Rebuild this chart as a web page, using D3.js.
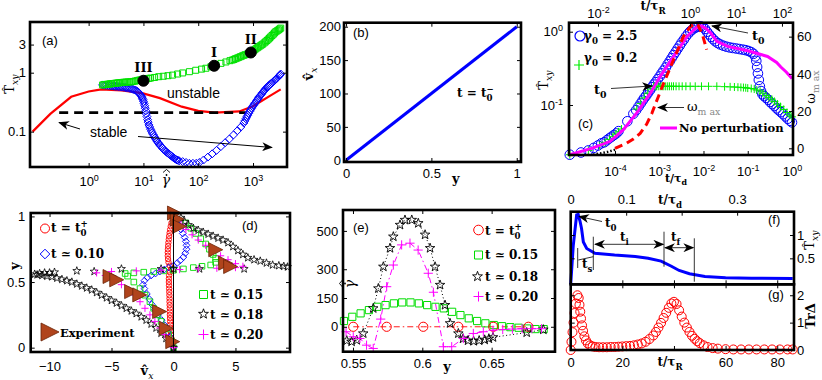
<!DOCTYPE html>
<html>
<head>
<meta charset="utf-8">
<script src="https://cdn.jsdelivr.net/npm/d3@7"></script>
<style>
  body { margin: 0; background: #fff; }
  svg { display: block; }
</style>
</head>
<body>
<svg id="fig" width="822" height="380"></svg>
<script>
/*
  Data
*/

// (a) shear stress vs shear rate
var aTicksX = [1, 10, 100, 1000];
var aTicksY = [0.1, 1, 3];
var aRed = [[0.095,0.1],[0.2,0.2],[0.48,0.39],[1.0,0.48],[1.7,0.52],[4,0.5],[9.5,0.45],[20,0.37],[50,0.265],[100,0.225],[200,0.21],[560,0.22],[1000,0.27],[2000,0.4],[3200,0.52]];
var aDash = [[0.29,0.21],[740,0.21]];
var aGreen = [[1.8,0.62],[1.9,0.625],[2.0,0.63],[2.15,0.635],[2.3,0.64],[2.45,0.645],[2.6,0.65],[2.8,0.655],[3.0,0.66],[3.2,0.665],[3.4,0.67],[3.65,0.675],[3.9,0.68],[4.2,0.685],[4.5,0.69],[4.85,0.693],[5.2,0.695],[5.6,0.698],[6,0.7],[6.5,0.71],[7,0.72],[7.6,0.733],[8.2,0.745],[8.9,0.757],[9.7,0.77],[10.6,0.78],[11.5,0.79],[12.5,0.8],[13.5,0.81],[16,0.83],[19,0.855],[23,0.87],[28,0.89],[34,0.91],[42,0.95],[52,0.99],[69,1.04],[90,1.1],[115,1.15],[138,1.19],[170,1.26],[210,1.35],[260,1.44],[320,1.52],[380,1.6],[420,1.64],[450,1.68],[480,1.73],[515,1.77],[550,1.82],[590,1.87],[630,1.92],[675,1.97],[720,2.02],[785,2.07],[850,2.13],[900,2.2],[950,2.28],[1010,2.36],[1070,2.45],[1130,2.55],[1200,2.65],[1270,2.75],[1350,2.85],[1420,2.95],[1500,3.05],[1600,3.2],[1700,3.35],[1800,3.52],[1900,3.7],[2000,3.87],[2100,4.05],[2220,4.27],[2350,4.5],[2470,4.73],[2600,4.96],[2750,5.13],[2900,5.3],[3050,5.5],[3200,5.7]];
var aBlue = [[1.8,0.62],[1.95,0.615],[2.1,0.61],[2.3,0.605],[2.5,0.6],[2.7,0.595],[2.9,0.59],[3.1,0.587],[3.3,0.585],[3.55,0.58],[3.8,0.575],[4.1,0.57],[4.4,0.565],[4.7,0.56],[5,0.555],[5.35,0.548],[5.7,0.54],[6.1,0.53],[6.5,0.52],[6.9,0.51],[7.3,0.5],[7.65,0.485],[8,0.47],[8.35,0.45],[8.7,0.43],[9.0,0.41],[9.3,0.39],[9.55,0.37],[9.8,0.35],[10.05,0.325],[10.3,0.3],[10.55,0.275],[10.8,0.25],[11.05,0.225],[11.3,0.2],[11.6,0.18],[11.9,0.16],[12.2,0.145],[12.6,0.13],[13,0.12],[13.5,0.11],[14,0.102],[14.5,0.095],[15.1,0.089],[15.7,0.083],[16.3,0.078],[17,0.073],[17.7,0.069],[18.5,0.065],[19.2,0.062],[20,0.059],[21,0.056],[22,0.053],[23.2,0.05],[24.5,0.048],[25.7,0.046],[27,0.044],[28.5,0.0425],[30,0.041],[31.5,0.0395],[33,0.038],[35,0.0365],[37,0.035],[39,0.034],[41,0.033],[43,0.0325],[45,0.032],
  [52,0.031],[60,0.03],[69,0.029],[80,0.029],[92,0.029],[105,0.03],[125,0.033],[150,0.037],[180,0.042],[215,0.048],[260,0.056],[310,0.065],[370,0.075],[440,0.088],[520,0.104],[600,0.12],
  [680,0.14],[710,0.152],[740,0.165],[770,0.178],[800,0.19],[835,0.205],[870,0.22],[905,0.235],[940,0.25],[980,0.265],[1020,0.28],[1060,0.295],[1100,0.31],[1150,0.33],[1200,0.35],[1250,0.37],[1300,0.39],[1360,0.41],[1420,0.43],[1480,0.455],[1550,0.48],[1620,0.505],[1700,0.53],[1770,0.555],[1850,0.58],[1920,0.6],[2000,0.62],[2100,0.645],[2200,0.67],[2320,0.7],[2450,0.73],[2570,0.765],[2700,0.8],[2850,0.84],[3000,0.88],[3100,0.915],[3200,0.95]];
var aPoints = [[10,0.73],[195,1.31],[910,2.2]];
var aPointNames = ["III", "I", "II"];

// (b) velocity profile
var bTicksX = [0, 0.5, 1];
var bTicksY = [0, 50, 100, 150, 200];
var bLine = [[0,0],[1,200]];

// (c) stress growth, two perturbations
var cTicksBottom = [1e-4, 1e-3, 1e-2, 1e-1, 1];
var cTicksTop = [1e-2, 1, 10, 100];
var cTicksLeft = [0.1, 1];
var cTicksRight = [0, 20, 40, 60];
var cNoPert = [[9.5e-6,0.021],[3.2e-5,0.026],[7.8e-5,0.032],[1.55e-4,0.046],[3.1e-4,0.078],[6.3e-4,0.145],[1.05e-3,0.245],[2.1e-3,0.457],[4.3e-3,0.87],[7e-3,1.15],[9e-3,1.2],[1.15e-2,1.1],[1.45e-2,0.96],[2.0e-2,0.74],[3.5e-2,0.63],[0.1,0.55],[0.28,0.46],[0.45,0.38],[0.56,0.33],[0.75,0.28],[1.0,0.23]];
var cOmega = [[1.0e-4,0],[1.8e-4,2.7],[2.6e-4,5],[3.7e-4,8],[5.2e-4,13],[6.8e-4,18.8],[8.9e-4,26],[1.26e-3,35],[2.1e-3,47.5],[3.5e-3,60],[4.9e-3,65],[6.2e-3,67],[7.6e-3,66],[9.5e-3,61],[1.18e-2,53]];
var cOmegaLow = [[3.2e-5,-3.4],[5e-5,-2.6],[7e-5,-1.8],[1e-4,-0.8]];
var cBlue = [[9.5e-6,0.021],[1.7e-5,0.0225],[2.5e-5,0.024],[3.3e-5,0.026],[4.1e-5,0.028],[4.9e-5,0.03],[5.7e-5,0.031],[6.5e-5,0.033],[7.4e-5,0.035],[8.4e-5,0.037],[9.5e-5,0.039],[1.07e-4,0.041],[1.2e-4,0.044],[1.9e-4,0.06],[2.6e-4,0.076],[3.0e-4,0.085],[3.4e-4,0.095],[3.8e-4,0.105],[4.2e-4,0.115],[4.6e-4,0.125],[5.1e-4,0.135],[5.6e-4,0.147],[6.2e-4,0.16],[6.8e-4,0.175],[7.5e-4,0.19],[8.3e-4,0.205],[9.2e-4,0.225],[1.02e-3,0.245],[1.13e-3,0.27],[1.25e-3,0.295],[1.4e-3,0.325],[1.55e-3,0.36],[1.72e-3,0.395],[1.9e-3,0.435],[2.1e-3,0.48],[2.35e-3,0.53],[2.6e-3,0.585],[2.9e-3,0.645],[3.2e-3,0.71],[3.6e-3,0.78],[4.0e-3,0.86],[4.5e-3,0.94],[5.0e-3,1.01],[5.6e-3,1.07],[6.3e-3,1.12],[7.0e-3,1.16],[7.8e-3,1.18],[8.7e-3,1.18],[9.7e-3,1.15],[1.08e-2,1.09],[1.2e-2,1.0],[1.33e-2,0.92],[1.48e-2,0.85],[1.65e-2,0.79],[1.85e-2,0.74],[2.1e-2,0.7],[2.4e-2,0.67],[2.8e-2,0.645],[3.3e-2,0.625],[3.9e-2,0.61],[4.6e-2,0.6],[5.5e-2,0.59],[6.5e-2,0.58],[7.7e-2,0.57],[9e-2,0.56],[0.105,0.545],[0.12,0.525],[0.135,0.5],[0.148,0.46],[0.156,0.4],[0.163,0.33],[0.17,0.27],[0.178,0.22],[0.188,0.18],[0.2,0.155],[0.215,0.14],[0.235,0.132],[0.26,0.125],[0.29,0.118],[0.32,0.11],[0.36,0.103],[0.4,0.097],[0.45,0.09],[0.5,0.085],[0.56,0.08],[0.63,0.075],[0.71,0.07],[0.8,0.065],[0.9,0.061],[1.0,0.058]];
var cGreen = [[9.5e-6,0.021],[2.5e-5,0.024],[4.5e-5,0.028],[6e-5,0.031],[7.5e-5,0.034],[9e-5,0.037],[1.05e-4,0.04],[1.2e-4,0.043],[1.4e-4,0.047],[3.1e-4,0.088],[3.8e-4,0.105],[4.6e-4,0.125],[5.5e-4,0.145],[6.5e-4,0.165],[7.4e-4,0.18],[8e-4,0.18],[8.7e-4,0.18],[9.5e-4,0.18],[1.05e-3,0.18],[1.15e-3,0.18],[1.27e-3,0.18],[1.4e-3,0.18],[1.55e-3,0.18],[1.7e-3,0.18],[1.9e-3,0.18],[2.1e-3,0.18],[2.4e-3,0.18],[2.8e-3,0.18],[3.3e-3,0.18],[4e-3,0.18],[5e-3,0.18],[6.5e-3,0.18],[9e-3,0.18],[0.013,0.18],[0.02,0.18],[0.03,0.178],[0.04,0.177],[0.05,0.176],[0.06,0.175],[0.07,0.174],[0.08,0.173],[0.09,0.172],[0.1,0.17],[0.12,0.168],[0.14,0.165],[0.16,0.16],[0.19,0.155],[0.22,0.145],[0.26,0.135],[0.3,0.127],[0.35,0.12],[0.4,0.112],[0.47,0.103],[0.55,0.095],[0.65,0.087],[0.77,0.079],[0.9,0.073],[1.0,0.069]];

// (d) velocity profiles (vx, y)
var dTicksX = [-10, -5, 0, 5];
var dTicksY = [0, 0.5, 1];
var dRed = [[0,0],[-0.08,0.025],[-0.14,0.05],[-0.18,0.075],[-0.21,0.1],[-0.23,0.125],[-0.25,0.15],[-0.26,0.175],[-0.27,0.2],[-0.28,0.225],[-0.29,0.25],[-0.3,0.275],[-0.3,0.3],[-0.31,0.325],[-0.32,0.35],[-0.32,0.375],[-0.33,0.4],[-0.34,0.425],[-0.35,0.45],[-0.36,0.475],[-0.37,0.5],[-0.37,0.525],[-0.35,0.55],[-0.28,0.575],[-0.18,0.6],[-0.3,0.625],[-0.4,0.65],[-0.44,0.675],[-0.46,0.7],[-0.46,0.725],[-0.45,0.75],[-0.43,0.775],[-0.41,0.8],[-0.38,0.825],[-0.35,0.85],[-0.31,0.875],[-0.27,0.9],[-0.22,0.925],[-0.16,0.95]];
var dBlue = [[0,0.0],[-0.1,0.04],[-0.25,0.08],[-0.45,0.12],[-0.7,0.17],[-0.95,0.21],[-1.25,0.25],[-1.5,0.29],[-1.75,0.33],[-1.95,0.37],[-2.15,0.41],[-2.35,0.45],[-2.45,0.48],[-2.35,0.51],[-2.1,0.535],[-1.8,0.55],[-1.45,0.565],[-1.1,0.58],[-0.75,0.595],[-0.4,0.61],[0,0.625],[0.3,0.645],[0.55,0.665],[0.8,0.69],[0.95,0.72],[1.05,0.75],[1.05,0.78],[1.0,0.81],[0.9,0.84],[0.75,0.87],[0.6,0.9],[0.45,0.93],[0.3,0.96]];
var dGreen = [[0,0.0],[-0.15,0.05],[-0.4,0.1],[-0.7,0.15],[-1.0,0.2],[-1.3,0.25],[-1.6,0.3],[-1.9,0.35],[-2.3,0.4],[-2.7,0.45],[-3.2,0.5],[-3.7,0.545],[-3.9,0.565],[-3.2,0.57],[-2.4,0.575],[-1.6,0.58],[-0.8,0.585],[0,0.59],[0.8,0.6],[1.6,0.61],[2.3,0.62],[3.0,0.63],[3.4,0.65],[3.4,0.68],[3.2,0.71],[2.9,0.75],[2.6,0.79],[2.2,0.83],[1.8,0.87],[1.4,0.91],[1.0,0.95]];
var dStar = [[0,0],[-0.3,0.03],[-0.6,0.07],[-1.0,0.11],[-1.4,0.15],[-1.8,0.18],[-2.2,0.21],[-2.6,0.235],[-3.0,0.26],[-3.4,0.28],[-3.8,0.3],[-4.2,0.32],[-4.6,0.34],[-5.0,0.36],[-5.4,0.38],[-5.8,0.4],[-6.2,0.42],[-6.6,0.44],[-7.0,0.455],[-7.4,0.47],[-7.8,0.485],[-8.2,0.5],[-8.6,0.51],[-9.0,0.52],[-9.4,0.53],[-9.8,0.54],[-10.2,0.545],[-10.6,0.55],[-11.0,0.555],[-11.2,0.56],[-10.8,0.565],[-10.4,0.57],[-10.0,0.57],[-9.6,0.575],
  [-7.8,0.585],[-6.4,0.58],[-4.2,0.6],[-1.0,0.6],[0,0.6],[2.1,0.6],[5.7,0.6],
  [9.2,0.615],[8.9,0.62],[8.5,0.625],[8.0,0.63],[7.5,0.645],[7.0,0.66],[6.5,0.67],[6.0,0.685],[5.6,0.71],[5.2,0.74],[4.8,0.77],[4.4,0.8],[4.0,0.82],[3.6,0.835],[3.2,0.85],[2.8,0.865],[2.4,0.88],[2.0,0.895],[1.6,0.91],[1.2,0.935],[0.9,0.96],[0.6,0.99]];
var dMag = [[0,0],[-0.3,0.05],[-0.7,0.1],[-1.1,0.15],[-1.5,0.2],[-1.9,0.25],[-2.3,0.3],[-2.7,0.35],[-3.1,0.4],[-3.6,0.44],[-4.2,0.48],[-4.8,0.52],[-5.5,0.55],[-6.2,0.57],[-5.0,0.58],[-3.0,0.585],[-1.0,0.59],[0.5,0.595],[2.0,0.6],[3.5,0.605],[5.0,0.61],[5.6,0.62],[5.0,0.64],[4.4,0.67],[3.8,0.7],[3.2,0.74],[2.6,0.78],[2.0,0.82],[1.5,0.86],[1.0,0.9],[0.6,0.94]];
var dExp = [[0.08,1.026],[0.3,0.98],[0.48,0.924],[3.41,0.746],[4.21,0.644],[4.61,0.618],[-5.12,0.542],[-4.58,0.517],[-3.38,0.427],[-2.72,0.402],[-1.12,0.275],[-0.58,0.148],[-0.06,0.046]];
var dLine = [[0,0],[0,1]];

// (e) shear rate profiles (y, gamma-dot)
var eTicksX = [0.55, 0.6, 0.65];
var eTicksY = [0, 150, 300, 500];
var eRed = [[0.5502,0],[0.5743,0],[0.6007,0],[0.626,0],[0.6512,0],[0.6765,0]];
var eGreen = [[0.5435,30],[0.5495,52],[0.5555,70],[0.5615,87],[0.5675,104],[0.5735,113],[0.5795,122],[0.5855,127],[0.5915,127],[0.5975,122],[0.6035,113],[0.6095,104],[0.6155,96],[0.6215,78],[0.6275,61],[0.6335,44],[0.6395,30],[0.6455,18],[0.6515,9],[0.6575,3],[0.6635,-2],[0.6695,-5],[0.6755,-9],[0.6815,-12],[0.6875,-12]];
var eStar = [[0.5455,-72],[0.549,-78],[0.5527,-70],[0.5574,-35],[0.5646,96],[0.5683,200],[0.5719,313],[0.5767,410],[0.5791,470],[0.5839,531],[0.5875,557],[0.5924,557],[0.5971,540],[0.602,480],[0.6056,410],[0.6092,313],[0.6128,218],[0.6164,113],[0.62,18],[0.626,-35],[0.6294,-62],[0.633,-72],[0.637,-75],[0.641,-72],[0.645,-68],[0.648,-62],[0.651,-55],[0.6753,-30],[0.6873,-15]];
var eMag = [[0.545,-26],[0.5502,-52],[0.555,-61],[0.5598,-96],[0.5646,-113],[0.570,40],[0.5743,209],[0.5791,322],[0.5851,427],[0.5911,436],[0.597,400],[0.6043,279],[0.608,180],[0.6152,-104],[0.6212,-104],[0.6296,-61],[0.6368,-35],[0.644,-26],[0.651,-18],[0.658,-14],[0.665,-12],[0.672,-10],[0.679,-10],[0.686,-10]];

// (f) stress vs time, (g) trace of perturbation
var fTicksTop = [0, 0.1, 0.2, 0.3];
var fTicksRight = [0.5, 1];
var gTicksBottom = [0, 20, 40, 60, 80];
var gTicksRight = [0, 1, 2];
var fStress = [[0,-0.06],[1.0,0.78],[2.3,1.43],[2.9,1.44],[3.6,1.3],[4.2,1.14],[4.9,0.85],[6.2,0.71],[9.4,0.61],[17,0.57],[25,0.54],[30,0.5],[35,0.44],[39,0.33],[42,0.24],[46,0.17],[52,0.11],[60,0.085],[70,0.075],[86,0.07]];
var gTr = [[0,0],[0.3,0.3],[0.7,0.65],[1.1,1.0],[1.5,1.35],[2.0,1.7],[2.6,2.0],[3.1,1.9],[3.4,1.65],[3.7,1.4],[4.0,1.15],[4.4,0.9],[4.8,0.7],[5.3,0.5],[5.9,0.35],[6.6,0.24],[7.5,0.17],[8.5,0.13],[9.6,0.11],[11,0.1],[12.5,0.1],[14,0.1],[15.5,0.11],[17,0.11],[18.5,0.12],[20,0.13],[21.5,0.14],[23,0.15],[24.5,0.17],[26,0.2],[27.5,0.24],[29,0.3],[30.5,0.4],[32,0.53],[33,0.66],[34,0.82],[35,0.99],[36,1.17],[37,1.36],[38,1.54],[39,1.7],[40,1.76],[41,1.68],[42,1.45],[43,1.22],[44,1.0],[45,0.82],[46,0.66],[47,0.52],[48,0.41],[49,0.32],[50,0.25],[51.5,0.17],[53,0.11],[55,0.07],[57,0.05],[60,0.03],[63,0.02],[66,0.02],[69,0.02],[72,0.02],[75,0.02],[78,0.02],[81,0.02],[84,0.02],[86,0.02]];


var svg = d3.select("#fig");
var SANS = "Liberation Sans, Arial, Helvetica, sans-serif";
var SERIF = "DejaVu Serif, serif";
var defs = svg.append("defs");

defs.append("marker").attr("id", "head")
  .attr("viewBox", "0 0 12 10").attr("refX", 11).attr("refY", 5)
  .attr("markerWidth", 11).attr("markerHeight", 9).attr("markerUnits", "userSpaceOnUse")
  .attr("orient", "auto-start-reverse")
  .append("path").attr("d", "M0,0 L12,5 L0,10 L3.5,5 Z").attr("fill", "#000");


/*
  Helpers
*/

function shapePath(type, s) {
  if (type === "square") return "M" + (-s) + "," + (-s) + "h" + 2 * s + "v" + 2 * s + "h" + (-2 * s) + "Z";
  if (type === "diamond") return "M0," + (-s) + "L" + s + ",0L0," + s + "L" + (-s) + ",0Z";
  if (type === "plus") return "M" + (-s) + ",0H" + s + "M0," + (-s) + "V" + s;
  if (type === "tri") return "M" + (-s) + "," + (-s) + "L" + s + ",0L" + (-s) + "," + s + "Z";
  if (type === "star") {
    var p = [];
    for (var k = 0; k < 10; k++) {
      var r = k % 2 ? s * 0.4 : s;
      var a = -Math.PI / 2 + k * Math.PI / 5;
      p.push((r * Math.cos(a)).toFixed(2) + "," + (r * Math.sin(a)).toFixed(2));
    }
    return "M" + p.join("L") + "Z";
  }
  // circle
  return "M" + s + ",0A" + s + "," + s + " 0 1,1 " + (-s) + ",0A" + s + "," + s + " 0 1,1 " + s + ",0Z";
}

function marks(g, data, sx, sy, type, s, stroke, fill, sw) {
  g.append("g").selectAll("path").data(data).enter().append("path")
    .attr("transform", function(d) { return "translate(" + sx(d[0]) + "," + sy(d[1]) + ")"; })
    .attr("d", shapePath(type, s))
    .attr("fill", fill || "none")
    .attr("stroke", stroke)
    .attr("stroke-width", sw || 1);
}

function curve(g, data, sx, sy, stroke, sw, dash) {
  g.append("path").datum(data)
    .attr("d", d3.line().x(function(d) { return sx(d[0]); }).y(function(d) { return sy(d[1]); }))
    .attr("fill", "none").attr("stroke", stroke).attr("stroke-width", sw)
    .attr("stroke-dasharray", dash || null);
}

function makeAxis(g, orient, scale, pos, values, pad, fmt) {
  var gen = {bottom: d3.axisBottom, top: d3.axisTop, left: d3.axisLeft, right: d3.axisRight}[orient](scale)
    .tickValues(values).tickSizeInner(-4).tickSizeOuter(0).tickPadding(pad)
    .tickFormat(fmt || d3.format(""));
  var horiz = orient === "bottom" || orient === "top";
  var ag = g.append("g")
    .attr("transform", horiz ? "translate(0," + pos + ")" : "translate(" + pos + ",0)")
    .call(gen);
  ag.select(".domain").remove();
  ag.selectAll(".tick line").attr("stroke", "#000");
  ag.selectAll(".tick text").attr("font-family", SANS).attr("font-size", 13).attr("fill", "#000");
  return ag;
}

var blank = function() { return ""; };
// a tick whose label place is taken by the axis title
function skipping(v) {
  return function(d) { return d === v ? "" : d3.format("")(d); };
}

function supLabels(ag) {
  ag.selectAll(".tick text").each(function(d) {
    var e = Math.round(Math.log10(d));
    var t = d3.select(this).text(null);
    t.append("tspan").text("10");
    t.append("tspan").attr("dy", "-0.55em").attr("font-size", "9px").text(e);
  });
}

function frame(g, x0, y0, x1, y1) {
  g.append("rect").attr("x", x0).attr("y", y0).attr("width", x1 - x0).attr("height", y1 - y0)
    .attr("fill", "none").attr("stroke", "#000").attr("stroke-width", 2.6);
}

// text built from segments: plain strings or {t, sub, sup, it, col, dx, w}
function rich(g, x, y, segs, o) {
  o = o || {};
  var size = o.size || 12;
  var t = g.append("text").attr("x", x).attr("y", y)
    .attr("font-family", o.font || SERIF).attr("font-size", size)
    .attr("font-weight", o.weight || "bold")
    .attr("text-anchor", o.anchor || "start").attr("fill", "#000");
  if (o.rotate) t.attr("transform", "rotate(" + o.rotate + "," + x + "," + y + ")");
  var cur = 0;
  segs.forEach(function(s) {
    if (typeof s === "string") s = {t: s};
    var off = s.sub ? size * 0.3 : s.sup ? -size * 0.45 : 0;
    var sp = t.append("tspan").attr("dy", off - cur).text(s.t);
    cur = off;
    if (s.sub || s.sup) sp.attr("font-size", size * 0.72);
    if (s.it) sp.attr("font-style", "italic");
    if (s.col) sp.attr("fill", s.col);
    if (s.w) sp.attr("font-weight", s.w);
    if (s.dx) sp.attr("dx", s.dx);
  });
  return t;
}

// shear-rate symbol: gamma with a dot and a hat above it
function gammaDotHat(g, x, y, rot) {
  var h = g.append("g").attr("transform", "translate(" + x + "," + y + ") rotate(" + (rot || 0) + ")");
  h.append("text").attr("text-anchor", "middle")
    .attr("font-family", SERIF).attr("font-size", 14).attr("font-style", "italic").text("\u03B3");
  h.append("circle").attr("cx", 0.5).attr("cy", -10).attr("r", 0.9).attr("fill", "#000");
  h.append("path").attr("d", "M-3,-12.5 L0.5,-15.5 L4,-12.5")
    .attr("fill", "none").attr("stroke", "#000").attr("stroke-width", 0.9);
}

function arrow(g, x1, y1, x2, y2, both, sw) {
  g.append("line").attr("x1", x1).attr("y1", y1).attr("x2", x2).attr("y2", y2)
    .attr("stroke", "#000").attr("stroke-width", sw || 0.8)
    .attr("marker-end", "url(#head)")
    .attr("marker-start", both ? "url(#head)" : null);
}

function seg(g, x1, y1, x2, y2) {
  g.append("line").attr("x1", x1).attr("y1", y1).attr("x2", x2).attr("y2", y2)
    .attr("stroke", "#000").attr("stroke-width", 0.8);
}


/*
  (a)
*/
var ga = svg.append("g");
var ax = d3.scaleLog().domain([Math.pow(10, -1.07), Math.pow(10, 3.62)]).range([30, 287]);
var ay = d3.scaleLog().domain([Math.pow(10, -1.6), Math.pow(10, 0.86)]).range([167, 22]);

curve(ga, aRed, ax, ay, "#ff0000", 2.2);
curve(ga, aDash, ax, ay, "#000", 2.6, "9,6");
marks(ga, aBlue, ax, ay, "diamond", 4, "#0000ff", "none", 1);
marks(ga, aGreen, ax, ay, "square", 3, "#00e000", "none", 1);
marks(ga, aPoints, ax, ay, "circle", 5.5, "#000", "#000", 1);
ga.selectAll(null).data(aPoints).enter().append("text")
  .attr("x", function(d) { return ax(d[0]); })
  .attr("y", function(d) { return ay(d[1]) - 9; })
  .attr("text-anchor", "middle")
  .attr("font-family", SERIF).attr("font-weight", "bold").attr("font-size", 13)
  .text(function(d, i) { return aPointNames[i]; });

makeAxis(ga, "bottom", ax, 167, aTicksX, 10, blank).call(supLabels);
makeAxis(ga, "top", ax, 22, aTicksX, 3, blank);
makeAxis(ga, "left", ay, 30, aTicksY, 4);
makeAxis(ga, "right", ay, 287, aTicksY, 3, blank);
frame(ga, 30, 22, 287, 167);

rich(ga, 42, 45, ["(a)"], {font: SANS, weight: "normal", size: 13});
rich(ga, 167, 98, ["unstable"], {font: SANS, weight: "normal", size: 14});
rich(ga, 90, 137, ["stable"], {font: SANS, weight: "normal", size: 14});
arrow(ga, 80, 129, 59, 122.5, false, 1);
arrow(ga, 138, 136.5, 272, 147.5, false, 1);
gammaDotHat(ga, 166, 185, 0);
rich(ga, 14, 84, ["T\u0302", {t: "xy", sub: true, it: true}], {size: 13, weight: "normal", anchor: "middle", rotate: -90});


/*
  (b)
*/
var gb = svg.append("g");
var bx = d3.scaleLinear().domain([-0.012, 1.025]).range([344, 521]);
var by = d3.scaleLinear().domain([-2.6, 206]).range([162, 22.7]);

curve(gb, bLine, bx, by, "#0000ff", 3);
makeAxis(gb, "bottom", bx, 162, bTicksX, 7);
makeAxis(gb, "top", bx, 22.7, bTicksX, 3, blank);
makeAxis(gb, "left", by, 344, bTicksY, 3);
makeAxis(gb, "right", by, 521, bTicksY, 3, blank);
frame(gb, 344, 22.7, 521, 162);

rich(gb, 353, 37, ["(b)"], {font: SANS, weight: "normal", size: 13});
rich(gb, 457, 97, ["t = t", {t: "0", sub: true}, {t: "\u2212", sup: true, dx: -6}], {size: 12});
rich(gb, 452, 183, ["y"], {size: 13});
rich(gb, 313, 74, ["v\u0302", {t: "x", sub: true, it: true, w: "normal"}], {size: 13, anchor: "middle", rotate: -90});


/*
  (c)
*/
var gc = svg.append("g");
var cx = d3.scaleLog().domain([Math.pow(10, -5.04), Math.pow(10, 0.023)]).range([569, 793]);
var cxTop = d3.scaleLog().domain([Math.pow(10, -2.63), Math.pow(10, 2.24)]).range([569, 793]);
var cy = d3.scaleLog().domain([Math.pow(10, -1.682), Math.pow(10, 0.123)]).range([155, 22.7]);
var cyR = d3.scaleLinear().domain([-3.6, 67.5]).range([155, 22.7]);

marks(gc, cBlue, cx, cy, "circle", 4.8, "#0000ff", "none", 1);
marks(gc, cGreen, cx, cy, "plus", 4, "#00ee00", "none", 1);
curve(gc, cNoPert, cx, cy, "#ff00ff", 3);
curve(gc, cOmegaLow, cx, cyR, "#000", 2.5, "1.5,2");
curve(gc, cOmega, cx, cyR, "#ff0000", 3, "8,5");

makeAxis(gc, "bottom", cx, 155, cTicksBottom, 12, blank).call(supLabels);
makeAxis(gc, "top", cxTop, 22.7, cTicksTop, 4.5, blank).call(supLabels);
makeAxis(gc, "left", cy, 569, cTicksLeft, 6, blank).call(supLabels);
makeAxis(gc, "right", cyR, 793, cTicksRight, 4);
frame(gc, 569, 22.7, 793, 155);

rich(gc, 578, 128, ["(c)"], {font: SANS, weight: "normal", size: 13});
marks(gc, [[cx.invert(580), cy.invert(36)]], cx, cy, "circle", 5, "#0000ff", "none", 1.2);
rich(gc, 584, 40, ["\u03B3", {t: "0", sub: true}, " = 2.5"], {size: 12});
marks(gc, [[cx.invert(579), cy.invert(65)]], cx, cy, "plus", 5, "#00ee00", "none", 1.2);
rich(gc, 584, 62, ["\u03B3", {t: "0", sub: true}, " = 0.2"], {size: 12});
gc.append("line").attr("x1", 660).attr("x2", 677).attr("y1", 128).attr("y2", 128)
  .attr("stroke", "#ff00ff").attr("stroke-width", 3);
rich(gc, 679, 132, ["No perturbation"], {size: 11.5});

arrow(gc, 748, 33, 712, 26, false, 0.8);
rich(gc, 752, 40, ["t", {t: "0", sub: true}], {size: 13});
arrow(gc, 611, 88.5, 652, 86, false, 0.8);
rich(gc, 594, 94, ["t", {t: "0", sub: true}], {size: 13});
arrow(gc, 684, 107.5, 658, 107.5, false, 0.8);
rich(gc, 687, 111, ["\u03C9", {t: "m ax", sub: true, col: "#888", w: "normal"}], {size: 13, weight: "normal"});

rich(gc, 653, 10, ["t/\u03C4", {t: "R", sub: true}], {size: 12, anchor: "middle"});
rich(gc, 676, 182, ["t/\u03C4", {t: "d", sub: true}], {size: 11, anchor: "middle"});
rich(gc, 548, 80, ["T\u0302", {t: "xy", sub: true, it: true}], {size: 13, weight: "normal", anchor: "middle", rotate: -90});
rich(gc, 815, 87, ["\u03C9", {t: "m ax", sub: true, col: "#888", w: "normal"}], {size: 13, weight: "normal", anchor: "middle", rotate: -90});


/*
  (d)
*/
var gd = svg.append("g");
var dx = d3.scaleLinear().domain([-11.52, 9.4]).range([30.7, 290]);
var dy = d3.scaleLinear().domain([-0.033, 1.026]).range([352, 213]);

marks(gd, dRed, dx, dy, "circle", 2.7, "#ff0000", "none", 0.9);
marks(gd, dBlue, dx, dy, "diamond", 3.4, "#0000ff", "none", 0.9);
marks(gd, dGreen, dx, dy, "square", 2.8, "#00dd00", "none", 0.9);
marks(gd, dStar, dx, dy, "star", 4.2, "#000", "none", 0.8);
marks(gd, dMag, dx, dy, "plus", 3.6, "#ff00ff", "none", 1);
marks(gd, dExp, dx, dy, "tri", 7, "#6b2508", "#b0441c", 0.8);
curve(gd, dLine, dx, dy, "#000", 1);

makeAxis(gd, "bottom", dx, 352, dTicksX, 10);
makeAxis(gd, "top", dx, 213, dTicksX, 3, blank);
makeAxis(gd, "left", dy, 30.7, dTicksY, 5.5);
makeAxis(gd, "right", dy, 290, dTicksY, 3, blank);
frame(gd, 30.7, 213, 290, 352);

rich(gd, 242, 230, ["(d)"], {font: SANS, weight: "normal", size: 13});
marks(gd, [[dx.invert(45), dy.invert(228.5)]], dx, dy, "circle", 4.5, "#ff0000", "none", 1);
rich(gd, 51, 232, ["t = t", {t: "0", sub: true}, {t: "+", sup: true, dx: -6}], {size: 12});
marks(gd, [[dx.invert(45), dy.invert(254)]], dx, dy, "diamond", 4.8, "#0000ff", "none", 1);
rich(gd, 51, 258, ["t \u2243 0.10"], {size: 12});
marks(gd, [[dx.invert(50), dy.invert(332)]], dx, dy, "tri", 9, "#6b2508", "#b0441c", 0.8);
rich(gd, 60, 337, ["Experiment"], {size: 11.5});
marks(gd, [[dx.invert(203.5), dy.invert(294.5)]], dx, dy, "square", 4, "#00dd00", "none", 1);
rich(gd, 210, 299, ["t \u2243 0.15"], {size: 12});
marks(gd, [[dx.invert(203.5), dy.invert(314)]], dx, dy, "star", 5.2, "#000", "none", 0.9);
rich(gd, 210, 319, ["t \u2243 0.18"], {size: 12});
marks(gd, [[dx.invert(203.5), dy.invert(334.5)]], dx, dy, "plus", 5, "#ff00ff", "none", 1);
rich(gd, 210, 339, ["t \u2243 0.20"], {size: 12});

rich(gd, 147, 375, ["v\u0302", {t: "x", sub: true, it: true, w: "normal"}], {size: 13, anchor: "middle"});
rich(gd, 19, 266, ["y"], {size: 13, anchor: "middle", rotate: -90});


/*
  (e)
*/
var ge = svg.append("g");
var ex = d3.scaleLinear().domain([0.5428, 0.6957]).range([343, 555]);
var ey = d3.scaleLinear().domain([-130, 609]).range([351.7, 210]);

curve(ge, eRed, ex, ey, "#ff0000", 0.9, "6,3,1.5,3");
curve(ge, eStar, ex, ey, "#000", 1, "1,2.5");
curve(ge, eMag, ex, ey, "#ff00ff", 1, "6,3,1.5,3");
marks(ge, eGreen, ex, ey, "square", 3.6, "#00dd00", "none", 1);
marks(ge, eRed, ex, ey, "circle", 4.6, "#ff0000", "none", 1);
marks(ge, eStar, ex, ey, "star", 5, "#000", "none", 0.9);
marks(ge, eMag, ex, ey, "plus", 4.6, "#ff00ff", "none", 1);

makeAxis(ge, "bottom", ex, 351.7, eTicksX, 7.4);
makeAxis(ge, "top", ex, 210, eTicksX, 3, blank);
makeAxis(ge, "left", ey, 343, eTicksY, 4.7);
makeAxis(ge, "right", ey, 555, eTicksY, 3, blank);
frame(ge, 343, 210, 555, 351.7);

rich(ge, 353, 232, ["(e)"], {font: SANS, weight: "normal", size: 13});
marks(ge, [[ex.invert(478.5), ey.invert(230)]], ex, ey, "circle", 4.8, "#ff0000", "none", 1);
rich(ge, 485, 235, ["t = t", {t: "0", sub: true}, {t: "+", sup: true, dx: -6}], {size: 12});
marks(ge, [[ex.invert(478.5), ey.invert(255)]], ex, ey, "square", 4, "#00dd00", "none", 1);
rich(ge, 485, 259, ["t \u2243 0.15"], {size: 12});
marks(ge, [[ex.invert(477.5), ey.invert(276.5)]], ex, ey, "star", 5.2, "#000", "none", 0.9);
rich(ge, 485, 281, ["t \u2243 0.18"], {size: 12});
marks(ge, [[ex.invert(478.5), ey.invert(296.5)]], ex, ey, "plus", 5, "#ff00ff", "none", 1);
rich(ge, 485, 301, ["t \u2243 0.20"], {size: 12});

rich(ge, 447, 371, ["y"], {size: 13, anchor: "middle"});
gammaDotHat(ge, 355, 284, -90);


/*
  (f) and (g)
*/
var gf = svg.append("g");
var fx = d3.scaleLinear().domain([0, 86.5]).range([570.7, 794]);
var fxTop = d3.scaleLinear().domain([0, 0.4025]).range([570.7, 794]);
var fy = d3.scaleLinear().domain([-0.057, 1.5]).range([284.3, 211.7]);
var gy = d3.scaleLinear().domain([0, 2.4]).range([350, 284.3]);

curve(gf, fStress, fx, fy, "#0000ff", 3);
marks(gf, gTr, fx, gy, "circle", 4.5, "#ff0000", "none", 1);

makeAxis(gf, "top", fxTop, 211.7, fTicksTop, 7.7, skipping(0.2));
makeAxis(gf, "bottom", fx, 284.3, gTicksBottom, 3, blank);
makeAxis(gf, "right", fy, 794, fTicksRight, 3);
makeAxis(gf, "left", fy, 570.7, fTicksRight, 3, blank);
makeAxis(gf, "bottom", fx, 350, gTicksBottom, 7.5, skipping(40));
makeAxis(gf, "top", fx, 284.3, gTicksBottom, 3, blank);
makeAxis(gf, "right", gy, 794, gTicksRight, 3);
makeAxis(gf, "left", gy, 570.7, gTicksRight, 3, blank);
frame(gf, 570.7, 211.7, 794, 284.3);
frame(gf, 570.7, 284.3, 794, 350);

rich(gf, 768, 224, ["(f)"], {font: SANS, weight: "normal", size: 13});
rich(gf, 768, 299, ["(g)"], {font: SANS, weight: "normal", size: 13});

arrow(gf, 602, 221.5, 579, 216.5, false, 0.8);
rich(gf, 605, 227, ["t", {t: "0", sub: true}], {size: 12});
seg(gf, 577.7, 248, 577.7, 268);
seg(gf, 593.3, 236.7, 593.3, 270);
seg(gf, 578.3, 260, 593.3, 256.7);
rich(gf, 582, 268, ["t", {t: "s", sub: true}], {size: 12});
arrow(gf, 595, 244.3, 663.3, 244.3, true, 0.8);
rich(gf, 620, 241, ["t", {t: "i", sub: true}], {size: 12});
seg(gf, 664, 231.7, 664, 266.7);
arrow(gf, 665, 247.7, 693.3, 247.7, true, 0.8);
rich(gf, 671, 241, ["t", {t: "f", sub: true}], {size: 12});
seg(gf, 694.3, 238.3, 694.3, 281.7);

rich(gf, 670, 204, ["t/\u03C4", {t: "d", sub: true}], {size: 12, anchor: "middle"});
rich(gf, 670, 366, ["t/\u03C4", {t: "R", sub: true}], {size: 12, anchor: "middle"});
rich(gf, 814, 240, ["T\u0302", {t: "xy", sub: true, it: true}], {size: 13, weight: "normal", anchor: "middle", rotate: -90});
rich(gf, 815, 316, ["Tr\u0394"], {size: 13, anchor: "middle", rotate: -90});
</script>
</body>
</html>
